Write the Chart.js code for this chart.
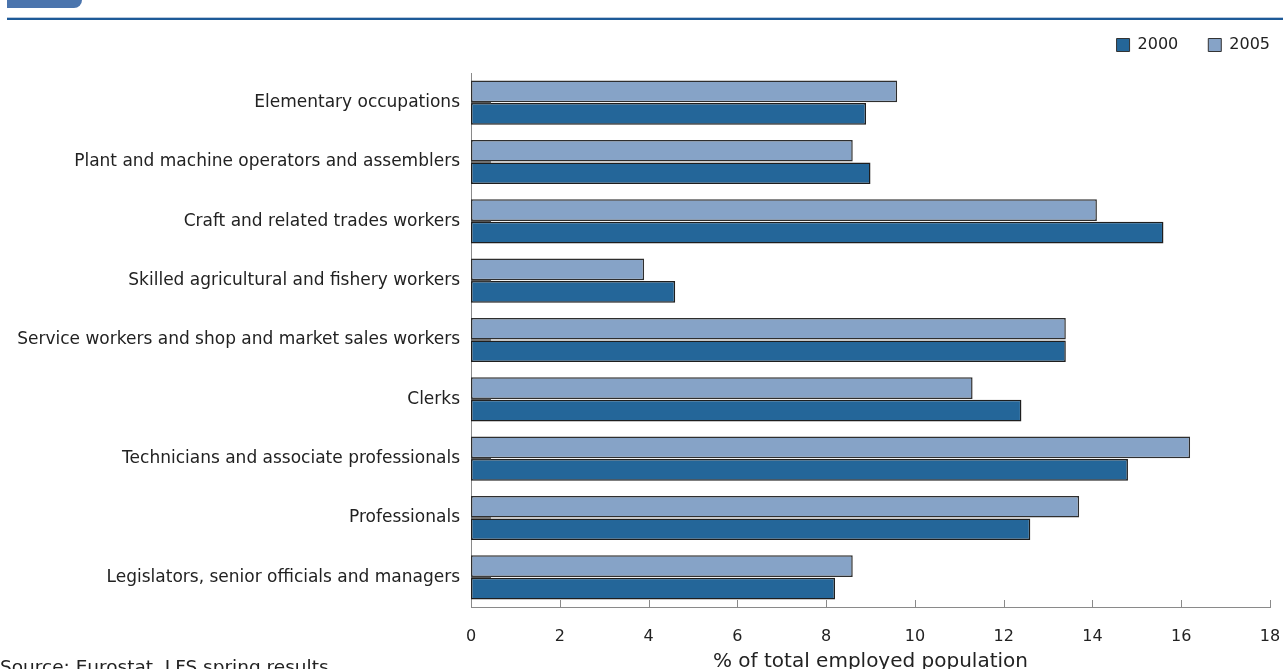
<!DOCTYPE html>
<html>
<head>
<meta charset="utf-8">
<script src="https://cdn.jsdelivr.net/npm/chart.js@4.4.0/dist/chart.umd.min.js"></script>
<style>
  html, body { margin: 0; padding: 0; background: #fff; overflow: hidden; }
  body { width: 1283px; height: 669px; position: relative; font-family: "DejaVu Sans", sans-serif; }
  #wrap { position: absolute; left: 0; top: 0; width: 1300px; height: 700px; }
  #tab { position: absolute; left: 7px; top: 0; width: 75px; height: 8px; background: #4a74ad; border-bottom-right-radius: 8px; }
  #rule { position: absolute; left: 7px; right: 0; top: 17px; height: 2px; background: #1d5a98; border-top: 1px solid #b9c9dd; }
  #source { position: absolute; left: 0; top: 656px; font-size: 18.5px; color: #222; white-space: nowrap; }
</style>
</head>
<body>
<div id="wrap"><canvas id="myChart" width="1300" height="700"></canvas></div>
<div id="tab"></div>
<div id="rule"></div>
<div id="source">Source: Eurostat, LFS spring results</div>
<script>
var categories = [
    "Elementary occupations",
    "Plant and machine operators and assemblers",
    "Craft and related trades workers",
    "Skilled agricultural and fishery workers",
    "Service workers and shop and market sales workers",
    "Clerks",
    "Technicians and associate professionals",
    "Professionals",
    "Legislators, senior officials and managers"
];
var values2005 = [9.6, 8.6, 14.1, 3.9, 13.4, 11.3, 16.2, 13.7, 8.6];
var values2000 = [8.9, 9.0, 15.6, 4.6, 13.4, 12.4, 14.8, 12.6, 8.2];
var xTicks = [0, 2, 4, 6, 8, 10, 12, 14, 16, 18];

// extra room under the legend
var legendGap = {
    id: "legendGap",
    afterInit: function (chart) {
        var fit = chart.legend.fit;
        chart.legend.fit = function () {
            fit.bind(chart.legend)();
            this.height += 10;
        };
    }
};

// ticks drawn inward like the original
var innerTicks = {
    id: "innerTicks",
    afterDatasetsDraw: function (chart) {
        var ctx = chart.ctx;
        var x = chart.scales.x;
        var y = chart.scales.y;
        var area = chart.chartArea;
        ctx.save();
        ctx.strokeStyle = "#8a8a8a";
        ctx.lineWidth = 1;
        xTicks.forEach(function (v) {
            var px = Math.round(x.getPixelForValue(v)) + 0.5;
            ctx.beginPath();
            ctx.moveTo(px, area.bottom);
            ctx.lineTo(px, area.bottom - 7);
            ctx.stroke();
        });
        ctx.strokeStyle = "#555";
        ctx.lineWidth = 1.5;
        categories.forEach(function (c, i) {
            var py = y.getPixelForValue(i);
            ctx.beginPath();
            ctx.moveTo(area.left, py);
            ctx.lineTo(area.left + 20, py);
            ctx.stroke();
        });
        ctx.restore();
    }
};

var ctx = document.getElementById("myChart").getContext("2d");
var chart = new Chart(ctx, {
    type: "bar",
    data: {
        labels: categories,
        datasets: [{
            label: "2005",
            data: values2005,
            backgroundColor: "#86a3c7",
            borderColor: "#2e2e2e",
            borderWidth: 1.5,
            borderSkipped: false,
            categoryPercentage: 0.76,
            barPercentage: 0.96
        }, {
            label: "2000",
            data: values2000,
            backgroundColor: "#246699",
            borderColor: "#1e1e1e",
            borderWidth: 1.5,
            borderSkipped: false,
            categoryPercentage: 0.76,
            barPercentage: 0.96
        }]
    },
    options: {
        indexAxis: "y",
        responsive: false,
        animation: false,
        layout: { padding: { top: 7, right: 0, left: 0, bottom: 0 } },
        plugins: {
            legend: {
                position: "top",
                align: "end",
                reverse: true,
                labels: {
                    boxWidth: 13,
                    boxHeight: 13,
                    padding: 30,
                    color: "#222",
                    font: { family: "DejaVu Sans", size: 16 },
                    generateLabels: function (chart) {
                        return chart.data.datasets.map(function (ds, i) {
                            return {
                                text: ds.label,
                                fillStyle: ds.backgroundColor,
                                strokeStyle: "#333",
                                lineWidth: 1,
                                datasetIndex: i,
                                fontColor: "#222"
                            };
                        });
                    }
                }
            },
            tooltip: { enabled: false }
        },
        scales: {
            x: {
                min: 0,
                max: 18,
                afterFit: function (s) {
                    s.height = 93;
                    s.paddingRight = 30;
                    s.paddingLeft = 0;
                },
                afterBuildTicks: function (s) {
                    s.ticks = xTicks.map(function (v) { return { value: v }; });
                },
                grid: { display: false, drawTicks: false },
                border: { display: true, color: "#8a8a8a", width: 1 },
                ticks: {
                    padding: 20,
                    color: "#222",
                    font: { family: "DejaVu Sans", size: 16 },
                    maxRotation: 0
                },
                title: {
                    display: true,
                    text: "% of total employed population",
                    color: "#222",
                    font: { family: "DejaVu Sans", size: 20 },
                    padding: { top: 0, bottom: 26 }
                }
            },
            y: {
                afterFit: function (s) {
                    s.width = 471;
                },
                grid: { display: false, drawTicks: false },
                border: { display: true, color: "#8a8a8a", width: 1 },
                ticks: {
                    padding: 11,
                    color: "#222",
                    font: { family: "DejaVu Sans", size: 17 }
                }
            }
        }
    },
    plugins: [legendGap, innerTicks]
});
</script>
</body>
</html>
